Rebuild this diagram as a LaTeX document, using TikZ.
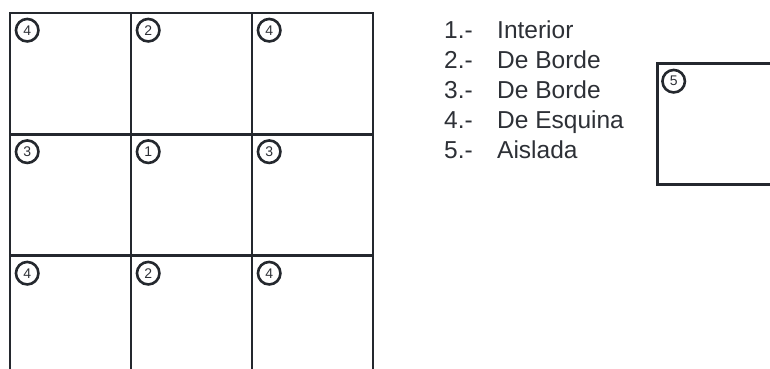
\documentclass[tikz,border=0pt]{standalone}
\usepackage{fontspec}
\setmainfont{Liberation Sans}
\usetikzlibrary{positioning}
\definecolor{DK}{RGB}{36,40,46}
\definecolor{TX}{RGB}{45,48,54}

\begin{document}
\begin{tikzpicture}[x=1pt, y=-1pt,
  cell/.style={draw=DK, line width=2.6pt, minimum size=121pt, inner sep=0pt},
  num/.style={circle, draw=DK, line width=2.6pt, minimum size=22.5pt, inner sep=0pt,
              font=\fontsize{14}{14}\selectfont, text=TX},
  item/.style={font=\fontsize{24.5}{28}\selectfont, text=TX, anchor=base west, inner sep=0pt}
]
\useasboundingbox (0,0) rectangle (770,368);
\clip (0,0) rectangle (770,368);

% Grid of cells
\foreach \lbl [count=\i from 0] in {4,2,4,3,1,3,4,2,4} {
  \pgfmathtruncatemacro\col{mod(\i,3)}
  \pgfmathtruncatemacro\row{div(\i,3)}
  \node[cell] (c\i) at ({70.5+121*\col},{73.5+121.5*\row}) {};
  \node[num]  (n\i) at ([xshift=18.5pt,yshift=-18.5pt]c\i.north west) {\lbl};
}

% Legend
\foreach \txt [count=\k] in {Interior, De Borde, De Borde, De Esquina, Aislada} {
  \node[item] (k\k) at (444,{38+30*(\k-1)}) {\k.-};
  \node[item] (t\k) at (497,{38+30*(\k-1)}) {\txt};
}

% Isolated cell
\node[cell] (iso) at (718,124) {};
\node[num]  (n5) at ([xshift=17.5pt,yshift=-19pt]iso.north west) {5};
\end{tikzpicture}
\end{document}
